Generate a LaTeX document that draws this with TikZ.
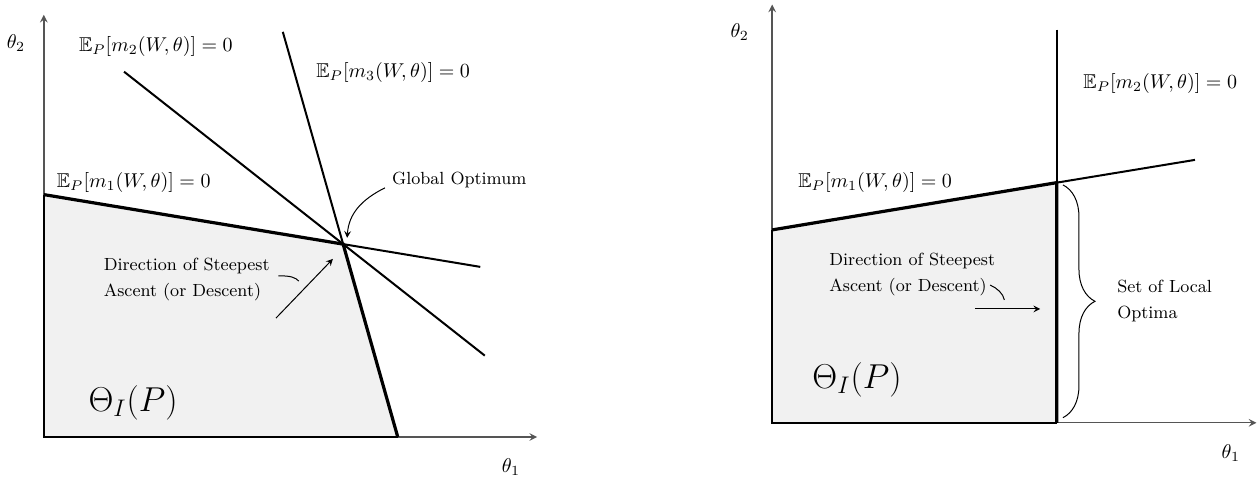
\documentclass[tikz,border=0pt]{standalone}
\usepackage{amsmath, amssymb}
\usepackage{xcolor}
\usepackage{tikz}
\usetikzlibrary{positioning, calc, decorations.pathreplacing}
\definecolor{regiongray}{HTML}{F1F1F1}
\definecolor{axisgray}{HTML}{555555}
\newcommand{\momeq}[1]{\ensuremath{\mathbb{E}_P[m_{#1}(W,\theta)] = 0}}

\begin{document}
\begin{tikzpicture}[
    axis/.style={draw=axisgray, line width=0.7pt, -stealth},
    edge/.style={line width=0.9pt},
    momline/.style={line width=1pt},
    border/.style={line width=1.6pt},
    region/.style={fill=regiongray},
    note/.style={font=\fontsize{8.8}{10.6}\selectfont, align=left},
    pointer/.style={line width=0.5pt, -stealth},
    callout/.style={line width=0.5pt},
  ]
  \useasboundingbox (0,0) rectangle (22.09,8.38);

  % left panel: corner points
  \coordinate (O1) at (0.77,0.70);
  \coordinate (A) at (0.77,4.96);
  \coordinate (G) at (6.03,4.09);
  \coordinate (B) at (6.99,0.70);
  \coordinate (m1e) at (8.44,3.69);
  \coordinate (m2s) at (2.18,7.12);
  \coordinate (m2e) at (8.52,2.13);
  \coordinate (m3s) at (4.97,7.82);
  \coordinate (yTopL) at (0.77,8.12);
  \coordinate (xEndL) at (9.44,0.70);
  \coordinate (gTip) at (6.10,4.20);
  \coordinate (ascL0) at (4.85,2.79);
  \coordinate (ascL1) at (5.85,3.83);

  % identified set and lines
  \fill[region] (O1) -- (A) -- (G) -- (B) -- cycle;
  \draw[axis] (O1) -- (yTopL);
  \draw[axis] (O1) -- (xEndL);
  \draw[edge] (A) -- (O1) -- (B);
  \draw[momline] (G) -- (m1e);
  \draw[momline] (m2s) -- (m2e);
  \draw[momline] (m3s) -- (G);
  \draw[border] (A) -- (G) -- (B);

  % left panel labels
  \node (th2L) at (0.28,7.63) {$\theta_2$};
  \node (th1L) at (8.98,0.18) {$\theta_1$};
  \node (m2L) at (2.74,7.56) {\momeq{2}};
  \node (m3L) at (6.91,7.11) {\momeq{3}};
  \node (m1L) at (2.35,5.17) {\momeq{1}};
  \node[note] (globL) at (8.07,5.22) {Global Optimum};
  \node[note, anchor=west] (dirL) at (1.70,3.46) {Direction of Steepest\\[2.4pt] Ascent (or Descent)};
  \node[font=\LARGE] (thetaL) at (2.34,1.30) {$\Theta_I(P)$};

  \draw[pointer] ([yshift=-4pt]globL.west) .. controls +(-0.42,-0.21) and +(0.03,0.42) .. (gTip);
  \draw[callout] (4.89,3.53) .. controls (5.10,3.54) and (5.20,3.50) .. (5.25,3.44);
  \draw[pointer] (ascL0) -- (ascL1);

  % right panel: corner points
  \coordinate (O2) at (13.57,0.95);
  \coordinate (A2) at (13.57,4.34);
  \coordinate (C) at (18.57,5.17);
  \coordinate (D) at (18.57,0.95);
  \coordinate (m1eR) at (21.00,5.57);
  \coordinate (m2sR) at (18.57,7.86);
  \coordinate (yTopR) at (13.57,8.30);
  \coordinate (xEndR) at (22.08,0.95);
  \coordinate (braceTop) at (18.68,5.13);
  \coordinate (braceBot) at (18.68,1.04);
  \coordinate (ascR0) at (17.13,2.95);
  \coordinate (ascR1) at (18.28,2.95);

  \fill[region] (O2) -- (A2) -- (C) -- (D) -- cycle;
  \draw[axis] (O2) -- (yTopR);
  \draw[axis] (O2) -- (xEndR);
  \draw[edge] (A2) -- (O2) -- (D);
  \draw[momline] (C) -- (m1eR);
  \draw[momline] (m2sR) -- (C);
  \draw[border] (A2) -- (C) -- (D);
  \draw[callout, decorate, decoration={brace, amplitude=16pt}] (braceTop) -- (braceBot);

  % right panel labels
  \node (th2R) at (13.00,7.82) {$\theta_2$};
  \node (th1R) at (21.63,0.42) {$\theta_1$};
  \node (m2R) at (20.39,6.92) {\momeq{2}};
  \node (m1R) at (15.38,5.18) {\momeq{1}};
  \node[note, anchor=west] (dirR) at (14.45,3.56) {Direction of Steepest\\[2.4pt] Ascent (or Descent)};
  \node[note, anchor=west] (setR) at (19.51,3.09) {Set of Local\\[2.4pt] Optima};
  \node[font=\LARGE] (thetaR) at (15.06,1.71) {$\Theta_I(P)$};

  \draw[callout] (17.40,3.37) .. controls (17.52,3.32) and (17.63,3.22) .. (17.65,3.11);
  \draw[pointer] (ascR0) -- (ascR1);
\end{tikzpicture}
\end{document}
